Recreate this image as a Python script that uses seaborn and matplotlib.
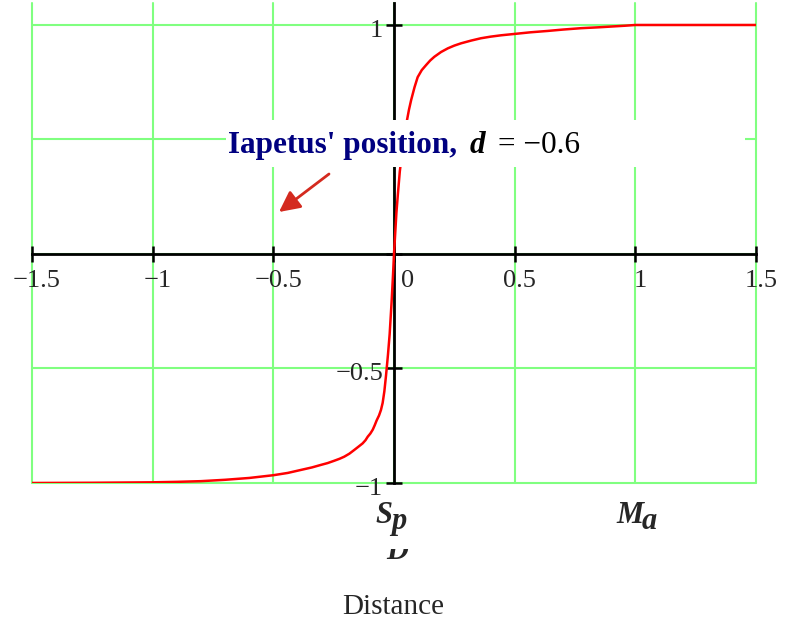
import matplotlib
matplotlib.use("Agg")
import matplotlib.pyplot as plt
import numpy as np
import pandas as pd
import seaborn as sns
from matplotlib.patches import Rectangle
from matplotlib.transforms import offset_copy

# ---- data ----
curve_x = [-1.5, -1.25, -1.0, -0.9, -0.8, -0.7, -0.6, -0.5, -0.44, -0.386,
           -0.34, -0.303, -0.275, -0.248, -0.225, -0.206, -0.185, -0.165, -0.148, -0.13,
           -0.118, -0.109, -0.098, -0.088, -0.08, -0.072, -0.062, -0.054, -0.047, -0.04,
           -0.033, -0.025, -0.018, -0.01, -0.004, 0.0, 0.005, 0.01, 0.016, 0.024,
           0.033, 0.043, 0.054, 0.062, 0.071, 0.085, 0.098, 0.115, 0.133, 0.15,
           0.167, 0.195, 0.223, 0.25, 0.278, 0.32, 0.36, 0.4, 0.444, 0.5,
           0.565, 0.637, 0.7, 0.775, 0.85, 0.913, 0.96, 1.0, 1.25, 1.5]
curve_y = [-1.0, -0.999, -0.997, -0.995, -0.992, -0.986, -0.978, -0.966, -0.956, -0.943,
           -0.932, -0.921, -0.913, -0.903, -0.894, -0.885, -0.872, -0.856, -0.842, -0.827,
           -0.813, -0.798, -0.784, -0.767, -0.748, -0.727, -0.705, -0.681, -0.65, -0.6,
           -0.53, -0.44, -0.35, -0.21, -0.09, 0.0, 0.09, 0.18, 0.26, 0.36,
           0.44, 0.52, 0.585, 0.63, 0.672, 0.728, 0.772, 0.803, 0.825, 0.845,
           0.861, 0.882, 0.898, 0.91, 0.92, 0.932, 0.942, 0.949, 0.955, 0.961,
           0.968, 0.974, 0.98, 0.986, 0.99, 0.994, 0.997, 1.0, 1.0, 1.0]

x_ticks = [-1.5, -1.0, -0.5, 0.0, 0.5, 1.0, 1.5]
x_tick_labels = ["\u22121.5", "\u22121", "\u22120.5", "0", "0.5", "1", "1.5"]
y_ticks = [-1.0, -0.5, 0.0, 0.5, 1.0]
y_tick_labels = ["\u22121", "\u22120.5", "", "", "1"]

annot_name = "Iapetus' position,"
annot_var = "d"
annot_value = "= \u22120.6"
x_title = "Distance"

sns.set_style("white")
plt.rcParams["font.family"] = ["Liberation Serif", "DejaVu Serif"]

W, H = 796, 623
fig = plt.figure(figsize=(W / 100, H / 100), dpi=100)
ax = fig.add_axes([32 / W, 1 - 483 / H, 724 / W, 480 / H])

df = pd.DataFrame({"x": curve_x, "y": curve_y})
sns.lineplot(data=df, x="x", y="y", sort=False, estimator=None,
             color="#ff0000", linewidth=1.8, ax=ax, zorder=4)

ax.set_xlim(-1.5, 1.5)
ax.set_ylim(-1.0, 1.096)
ax.set_xlabel("")
ax.set_ylabel("")
for s in ["top", "right"]:
    ax.spines[s].set_visible(False)
ax.spines["left"].set_position(("data", 0))
ax.spines["bottom"].set_position(("data", 0))
for s in ["left", "bottom"]:
    ax.spines[s].set_color("black")
    ax.spines[s].set_linewidth(2)
    ax.spines[s].set_zorder(3)

ax.set_xticks(x_ticks)
ax.set_yticks(y_ticks)
ax.tick_params(bottom=True, left=True, top=False, right=False,
               direction="inout", length=12, width=1.8, colors="black",
               labelbottom=False, labelleft=False)
ax.grid(False)
grid_color = "#80ff80"
for t in x_ticks:
    ax.axvline(t, color=grid_color, linewidth=1.5, zorder=0.5, clip_on=False)
for t in y_ticks:
    ax.axhline(t, color=grid_color, linewidth=1.5, zorder=0.5, clip_on=False)

tick_fs = 19
for t, lab in zip(x_ticks, x_tick_labels):
    if t == 0:
        tr = offset_copy(ax.transData, fig=fig, x=7, y=-33, units="dots")
        ax.text(t, 0, lab, transform=tr, ha="left", va="baseline", fontsize=tick_fs)
    else:
        tr = offset_copy(ax.transData, fig=fig, x=5, y=-33, units="dots")
        ax.text(t, 0, lab, transform=tr, ha="center", va="baseline", fontsize=tick_fs)
for t, lab in zip(y_ticks, y_tick_labels):
    if lab:
        tr = offset_copy(ax.transData, fig=fig, x=-11, y=-12, units="dots")
        ax.text(0, t, lab, transform=tr, ha="right", va="baseline", fontsize=tick_fs,
                zorder=1)


def fx(px):
    return px / W


def fy(py):
    return 1 - py / H


# white box behind the annotation text
fig.patches.append(Rectangle((fx(226), fy(167)), (745 - 226) / W, 47 / H,
                             transform=fig.transFigure, facecolor="white",
                             edgecolor="none", zorder=2))

fig.text(fx(228), fy(153), annot_name, color="#000080", fontsize=22.5,
         fontweight="bold", ha="left", va="baseline", zorder=3)
fig.text(fx(470), fy(153), annot_var, color="black", fontsize=22.5,
         fontweight="bold", fontstyle="italic", ha="left", va="baseline", zorder=3)
fig.text(fx(498), fy(153), annot_value, color="black", fontsize=22.5,
         ha="left", va="baseline", zorder=3)

ax.annotate("", xy=(279, H - 212), xycoords="figure pixels",
            xytext=(329, H - 174), textcoords="figure pixels",
            arrowprops=dict(arrowstyle="-|>,head_length=0.7,head_width=0.35",
                            color="#d42a1f", lw=2,
                            mutation_scale=18, shrinkA=0, shrinkB=0))

# labels under the plot
fig.text(fx(375), fy(523), "S", fontsize=22, fontweight="bold", fontstyle="italic",
         ha="left", va="baseline", zorder=3)
fig.text(fx(391), fy(529), "p", fontsize=22, fontweight="bold", fontstyle="italic",
         ha="left", va="baseline", zorder=3)
fig.text(fx(386), fy(559), "D", fontsize=22, fontweight="bold", fontstyle="italic",
         ha="left", va="baseline", zorder=3)
fig.patches.append(Rectangle((fx(372), fy(548.5)), 50 / W, 12.5 / H,
                             transform=fig.transFigure, facecolor="white",
                             edgecolor="none", zorder=3.5))
fig.text(fx(616), fy(523), "M", fontsize=22, fontweight="bold", fontstyle="italic",
         ha="left", va="baseline", zorder=3)
fig.text(fx(642), fy(529), "a", fontsize=22, fontweight="bold", fontstyle="italic",
         ha="left", va="baseline", zorder=3)

fig.text(fx(393), fy(614), x_title, fontsize=21, ha="center", va="baseline")

fig.savefig("out.png", dpi=100)
